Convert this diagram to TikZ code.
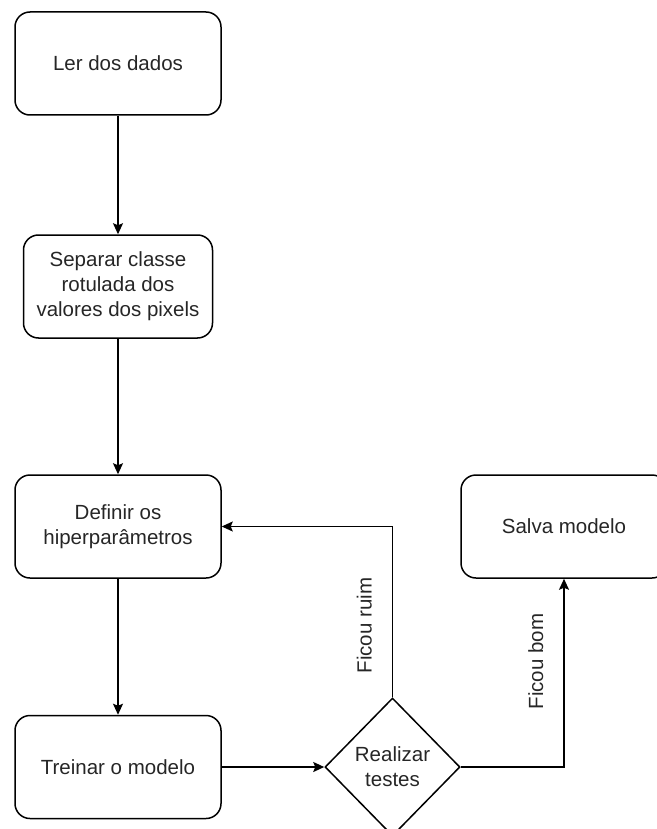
\documentclass[tikz,border=0pt]{standalone}
\usepackage{fontspec}
\setmainfont{Liberation Sans}
\usetikzlibrary{shapes.geometric,arrows.meta}
\tikzset{
	etapa/.style={draw, rounded corners=15pt, line width=1.5pt, minimum width=206pt, minimum height=103pt, align=center, inner sep=0pt},
	decisao/.style={draw, diamond, line width=1.5pt, minimum width=135pt, minimum height=138pt, align=center, inner sep=0pt},
	seta/.style={-{Stealth[length=11pt,width=10pt,inset=2pt]}, line width=1.5pt},
	rotulo/.style={rotate=90, anchor=south, inner sep=20pt}
}
\begin{document}
\begin{tikzpicture}[x=1pt, y=-1pt, font=\fontsize{20.5}{25}\selectfont, text=black!85]
	\useasboundingbox (0,0) rectangle (656,829);
	\node[etapa] (ler) at (118,63.5) {Ler dos dados};
	\node[etapa, minimum width=189pt] (separar) at (118,286.5) {Separar classe\\rotulada dos\\valores dos pixels};
	\node[etapa] (definir) at (118,526.5) {Definir os\\hiperparâmetros};
	\node[etapa] (treinar) at (118,767) {Treinar o modelo};
	\node[decisao] (testes) at (392.5,767) {Realizar\\testes};
	\node[etapa] (salva) at (564,526.5) {Salva modelo};
	\draw[seta] (ler) -- (separar);
	\draw[seta] (separar) -- (definir);
	\draw[seta] (definir) -- (treinar);
	\draw[seta] (treinar) -- (testes);
	\draw[seta] (testes.north) |- (definir.east) node[rotulo, pos=0.21] {Ficou ruim};
	\draw[seta] (testes.east) -| (salva.south) node[rotulo, pos=0.78] {Ficou bom};
\end{tikzpicture}
\end{document}
